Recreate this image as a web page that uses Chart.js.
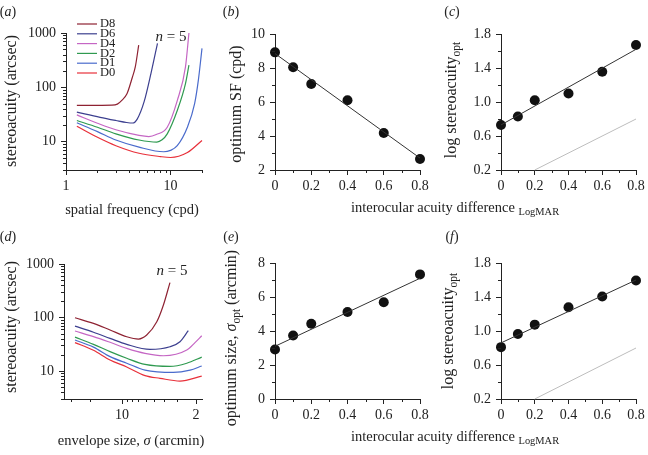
<!DOCTYPE html>
<html>
<head>
<meta charset="utf-8">
<script src="https://cdn.jsdelivr.net/npm/chart.js@4.4.1/dist/chart.umd.min.js"></script>
<style>
  body { margin: 0; background: #fff; }
  #wrap { position: relative; width: 648px; height: 455px; overflow: hidden; }
  canvas { position: absolute; left: 0; top: 0; }
</style>
</head>
<body>
<div id="wrap">
  <canvas id="pa" width="648" height="455"></canvas>
  <canvas id="pb" width="648" height="455"></canvas>
  <canvas id="pc" width="648" height="455"></canvas>
  <canvas id="pd" width="648" height="455"></canvas>
  <canvas id="pe" width="648" height="455"></canvas>
  <canvas id="pf" width="648" height="455"></canvas>
</div>
<script>
// ---- data ----
const curveNames = ['D8', 'D6', 'D4', 'D2', 'D1', 'D0'];
const curveColors = ['#8e2232', '#3c3f8f', '#c566c4', '#2f9a50', '#4a6bcc', '#e8303a'];

// (a) stereoacuity vs spatial frequency (cpd)
const sfD8 = [1.27, 2.0, 2.75, 3.1, 3.4, 3.83, 4.3, 4.6, 4.96];
const saD8 = [46.5, 46.5, 46.8, 49, 57, 76, 150, 237, 600];
const sfD6 = [1.27, 2.12, 3.0, 3.8, 4.35, 4.8, 5.6, 6.5, 7.5];
const saD6 = [35, 28, 24.5, 22.5, 22, 26, 55, 180, 645];
const sfD4 = [1.27, 2, 3, 5, 6.2, 7.3, 9.3, 11.6, 13.9, 15];
const saD4 = [31, 21.8, 16.5, 13, 12.4, 13.5, 18.4, 57, 237, 1000];
const sfD2 = [1.27, 2, 3, 5, 7.4, 8.3, 9.3, 11.6, 13.9, 15];
const saD2 = [24.5, 18.4, 13.9, 10.7, 9.8, 10.8, 13.9, 37.5, 117, 255];
const sfD1 = [1.27, 2, 3, 5, 8.6, 10, 11.6, 14.5, 17, 18.5, 20];
const saD1 = [22.2, 15.3, 10.7, 7.9, 6.5, 6.9, 8.4, 18.4, 50, 140, 520];
const sfD0 = [1.27, 2, 3, 5, 8, 10, 14.5, 20];
const saD0 = [19.2, 12, 8.4, 6.1, 5.3, 5.1, 6.3, 10.5];

// (d) stereoacuity vs envelope size (arcmin), axis reversed
const esD8 = [27.8, 18.6, 12.98, 9.03, 7.0, 5.85, 4.7, 4.07, 3.53];
const sdD8 = [99, 77.7, 58.4, 43.7, 39.6, 47, 83, 171, 450];
const esD6 = [27.8, 18.6, 12.98, 9.03, 5.45, 3.53, 2.84, 2.37];
const sdD6 = [69, 53, 40.8, 31.5, 25.4, 28.4, 35.3, 56.6];
const esD4 = [27.8, 18.6, 12.98, 9.03, 6.07, 4.07, 2.45, 2.05, 1.77];
const sdD4 = [56, 44, 34.4, 26.5, 21.4, 19.3, 24.7, 34, 45.6];
const esD2 = [27.8, 18.6, 12.98, 9.03, 6.07, 3.53, 2.45, 1.77];
const sdD2 = [43, 31.5, 23.0, 17.3, 13.3, 12.2, 14.0, 18.2];
const esD1 = [27.8, 18.6, 12.98, 9.03, 6.07, 3.28, 2.28, 1.77];
const sdD1 = [38, 28, 18.6, 14.0, 10.4, 9.4, 10.4, 12.4];
const esD0 = [27.8, 18.6, 12.98, 9.03, 6.07, 4.38, 2.84, 1.77];
const sdD0 = [34, 24.4, 16.1, 11.9, 8.2, 7.3, 6.5, 8.0];

// (b), (c), (e), (f) vs interocular acuity difference
const iad = [0, 0.1, 0.2, 0.4, 0.6, 0.8];
const fitX = [0, 0.8];
const optSF = [8.92, 8.04, 7.06, 6.1, 4.18, 2.65];
const optSFfit = [8.85, 2.70];
const logSaB = [0.73, 0.83, 1.02, 1.10, 1.355, 1.67];
const logSaBfit = [0.73, 1.62];
const optSize = [2.91, 3.74, 4.43, 5.12, 5.69, 7.33];
const optSizeFit = [3.1, 7.1];
const logSaE = [0.81, 0.965, 1.075, 1.28, 1.405, 1.594];
const logSaEfit = [0.86, 1.60];
const refX = [0.2, 0.8];
const refY = [0.2, 0.8];

// tick values
const logMajor = [10, 100, 1000];
const logMinor = [3, 4, 5, 6, 7, 8, 9, 20, 30, 40, 50, 60, 70, 80, 90, 200, 300, 400, 500, 600, 700, 800, 900];
const sfMajor = [1, 10];
const sfMinor = [2, 3, 4, 5, 6, 7, 8, 9, 20];
const esMajor = [10, 2];
const esMinor = [30, 20, 9, 8, 7, 6, 5, 4, 3];
const iadMajor = [0, 0.2, 0.4, 0.6, 0.8];
const iadMinor = [0.1, 0.3, 0.5, 0.7];

// ---- helpers ----
const FONT = 'Liberation Serif';
const INK = '#222';
const YT = 16;   // y-axis title size

function pts(xs, ys) { return xs.map((x, i) => ({ x: x, y: ys[i] })); }

function drawRich(ctx, it) {
  const size = it.size || 14.5;
  ctx.save();
  ctx.translate(it.x, it.y);
  if (it.rot) ctx.rotate(it.rot);
  const runs = it.runs.map(r => Object.assign({}, r, {
    font: (r.it ? 'italic ' : '') + (r.sub ? size * 0.72 : size) + 'px "' + FONT + '"'
  }));
  let w = 0;
  runs.forEach(r => { ctx.font = r.font; r.w = ctx.measureText(r.s).width; w += r.w; });
  let x = it.align === 'left' ? 0 : -w / 2;
  ctx.fillStyle = INK;
  ctx.textBaseline = 'middle';
  runs.forEach(r => { ctx.font = r.font; ctx.fillText(r.s, x, r.sub ? size * 0.32 : 0); x += r.w; });
  ctx.restore();
}

const textPlugin = {
  id: 'texts',
  afterDraw(chart, args, opts) {
    (opts.items || []).forEach(it => drawRich(chart.ctx, it));
  }
};

const minorTicks = {
  id: 'minorTicks',
  afterDraw(chart, args, opts) {
    const ctx = chart.ctx;
    const sx = chart.scales.x, sy = chart.scales.y;
    ctx.save();
    ctx.strokeStyle = INK;
    ctx.lineWidth = 1;
    ctx.beginPath();
    (opts.x || []).forEach(v => {
      const px = Math.round(sx.getPixelForValue(v)) + 0.5;
      ctx.moveTo(px, sx.top); ctx.lineTo(px, sx.top + 3);
    });
    (opts.y || []).forEach(v => {
      const py = Math.round(sy.getPixelForValue(v)) + 0.5;
      ctx.moveTo(sy.right, py); ctx.lineTo(sy.right - 3, py);
    });
    ctx.stroke();
    ctx.restore();
  }
};

const legendPlugin = {
  id: 'lineLegend',
  afterDraw(chart, args, opts) {
    if (!opts.show) return;
    const ctx = chart.ctx;
    ctx.save();
    chart.data.datasets.forEach((ds, i) => {
      const y = opts.y + i * opts.step;
      ctx.strokeStyle = ds.borderColor;
      ctx.lineWidth = 1.2;
      ctx.beginPath();
      ctx.moveTo(opts.x, y); ctx.lineTo(opts.x + 20, y);
      ctx.stroke();
      ctx.fillStyle = INK;
      ctx.font = '12.5px "' + FONT + '"';
      ctx.textBaseline = 'middle';
      ctx.fillText(ds.label, opts.x + 23, y);
    });
    ctx.restore();
  }
};

function axis(type, min, max, major, fmt, isX, extra) {
  return Object.assign({
    type: type,
    min: min,
    max: max,
    afterBuildTicks: s => { s.ticks = major.map(v => ({ value: v })); },
    afterFit: s => { if (isX) s.height = 30; else s.width = 45; },
    grid: { display: true, drawOnChartArea: false, drawTicks: true, tickLength: 5, color: INK },
    border: { display: true, color: INK, width: 1 },
    ticks: {
      autoSkip: false, maxRotation: 0, padding: isX ? 3 : 5,
      color: INK, font: { family: FONT, size: 14 },
      callback: v => fmt(v)
    }
  }, extra || {});
}

function makePanel(id, area, scales, datasets, minor, texts, legend) {
  const [L, T, R, B] = area;
  new Chart(document.getElementById(id), {
    type: 'scatter',
    data: { datasets: datasets },
    options: {
      responsive: false,
      animation: false,
      events: [],
      layout: { padding: { left: L - 45, top: T, right: 648 - R, bottom: 455 - B - 30 } },
      scales: scales,
      plugins: {
        legend: { display: false },
        tooltip: { enabled: false },
        minorTicks: minor,
        texts: { items: texts },
        lineLegend: legend || { show: false }
      }
    },
    plugins: [minorTicks, textPlugin, legendPlugin]
  });
}

function curve(label, color, xs, ys) {
  return {
    label: label, data: pts(xs, ys), showLine: true, pointRadius: 0,
    borderColor: color, borderWidth: 1.2, cubicInterpolationMode: 'monotone', clip: false
  };
}
function dots(xs, ys) {
  return { data: pts(xs, ys), showLine: false, pointRadius: 5, pointBackgroundColor: '#111',
    pointBorderColor: '#111', pointBorderWidth: 0, clip: false };
}
function fitLine(xs, ys, color) {
  return { data: pts(xs, ys), showLine: true, pointRadius: 0, borderColor: color,
    borderWidth: 1, clip: false };
}

const fmtNum = v => String(v);
const fmtIad = v => (v === 0 ? '0' : v.toFixed(1));
const fmt1 = v => v.toFixed(1);
const it = s => ({ s: s, it: true });
const tx = s => ({ s: s });
const sub = s => ({ s: s, sub: true });
const rotUp = -Math.PI / 2;

// (a)
makePanel('pa', [66, 33, 202, 170], {
  x: axis('logarithmic', 1, 20, sfMajor, fmtNum, true),
  y: axis('logarithmic', 3, 1000, logMajor, fmtNum, false)
}, [
  curve(curveNames[0], curveColors[0], sfD8, saD8),
  curve(curveNames[1], curveColors[1], sfD6, saD6),
  curve(curveNames[2], curveColors[2], sfD4, saD4),
  curve(curveNames[3], curveColors[3], sfD2, saD2),
  curve(curveNames[4], curveColors[4], sfD1, saD1),
  curve(curveNames[5], curveColors[5], sfD0, saD0)
], { x: sfMinor, y: logMinor }, [
  { runs: [tx('('), it('a'), tx(')')], x: 8, y: 12, size: 14 },
  { runs: [it('n'), tx(' = 5')], x: 171, y: 37, size: 15 },
  { runs: [tx('stereoacuity (arcsec)')], x: 12, y: 101, rot: rotUp, size: YT },
  { runs: [tx('spatial frequency (cpd)')], x: 132, y: 210 }
], { show: true, x: 77, y: 24, step: 9.8 });

// (b)
makePanel('pb', [275, 34, 420, 170], {
  x: axis('linear', 0, 0.8, iadMajor, fmtIad, true),
  y: axis('linear', 2, 10, [2, 4, 6, 8, 10], fmtNum, false)
}, [
  fitLine(fitX, optSFfit, '#333'),
  dots(iad, optSF)
], { x: iadMinor, y: [3, 5, 7, 9] }, [
  { runs: [tx('('), it('b'), tx(')')], x: 231, y: 12, size: 14 },
  { runs: [tx('optimum SF (cpd)')], x: 237, y: 104, rot: rotUp, size: YT }
]);

// (c)
makePanel('pc', [501, 34, 636, 170], {
  x: axis('linear', 0, 0.8, iadMajor, fmtIad, true),
  y: axis('linear', 0.2, 1.8, [0.2, 0.6, 1.0, 1.4, 1.8], fmt1, false)
}, [
  fitLine(refX, refY, '#bdbdbd'),
  fitLine(fitX, logSaBfit, '#333'),
  dots(iad, logSaB)
], { x: iadMinor, y: [0.4, 0.8, 1.2, 1.6] }, [
  { runs: [tx('('), it('c'), tx(')')], x: 452, y: 12, size: 14 },
  { runs: [tx('log stereoacuity'), sub('opt')], x: 452, y: 100, rot: rotUp, size: YT },
  { runs: [tx('interocular acuity difference '), sub('LogMAR')], x: 455, y: 208 }
]);

// (d)
makePanel('pd', [64, 264, 202, 399], {
  x: axis('logarithmic', 1.76, 35.3, esMajor, fmtNum, true, { reverse: true }),
  y: axis('logarithmic', 3, 1000, logMajor, fmtNum, false)
}, [
  curve(curveNames[0], curveColors[0], esD8, sdD8),
  curve(curveNames[1], curveColors[1], esD6, sdD6),
  curve(curveNames[2], curveColors[2], esD4, sdD4),
  curve(curveNames[3], curveColors[3], esD2, sdD2),
  curve(curveNames[4], curveColors[4], esD1, sdD1),
  curve(curveNames[5], curveColors[5], esD0, sdD0)
], { x: esMinor, y: logMinor }, [
  { runs: [tx('('), it('d'), tx(')')], x: 8, y: 237, size: 14 },
  { runs: [it('n'), tx(' = 5')], x: 172, y: 271, size: 15 },
  { runs: [tx('stereoacuity (arcsec)')], x: 12, y: 327, rot: rotUp, size: YT },
  { runs: [tx('envelope size, '), it('σ'), tx(' (arcmin)')], x: 131, y: 441 }
]);

// (e)
makePanel('pe', [275, 263, 420, 399], {
  x: axis('linear', 0, 0.8, iadMajor, fmtIad, true),
  y: axis('linear', 0, 8, [0, 2, 4, 6, 8], fmtNum, false)
}, [
  fitLine(fitX, optSizeFit, '#333'),
  dots(iad, optSize)
], { x: iadMinor, y: [1, 3, 5, 7] }, [
  { runs: [tx('('), it('e'), tx(')')], x: 231, y: 237, size: 14 },
  { runs: [tx('optimum size, '), it('σ'), sub('opt'), tx(' (arcmin)')], x: 232, y: 338, rot: rotUp, size: YT }
]);

// (f)
makePanel('pf', [501, 263, 636, 399], {
  x: axis('linear', 0, 0.8, iadMajor, fmtIad, true),
  y: axis('linear', 0.2, 1.8, [0.2, 0.6, 1.0, 1.4, 1.8], fmt1, false)
}, [
  fitLine(refX, refY, '#bdbdbd'),
  fitLine(fitX, logSaEfit, '#333'),
  dots(iad, logSaE)
], { x: iadMinor, y: [0.4, 0.8, 1.2, 1.6] }, [
  { runs: [tx('('), it('f'), tx(')')], x: 452, y: 237, size: 14 },
  { runs: [tx('log stereoacuity'), sub('opt')], x: 449, y: 331, rot: rotUp, size: YT },
  { runs: [tx('interocular acuity difference '), sub('LogMAR')], x: 455, y: 437 }
]);
</script>
</body>
</html>
